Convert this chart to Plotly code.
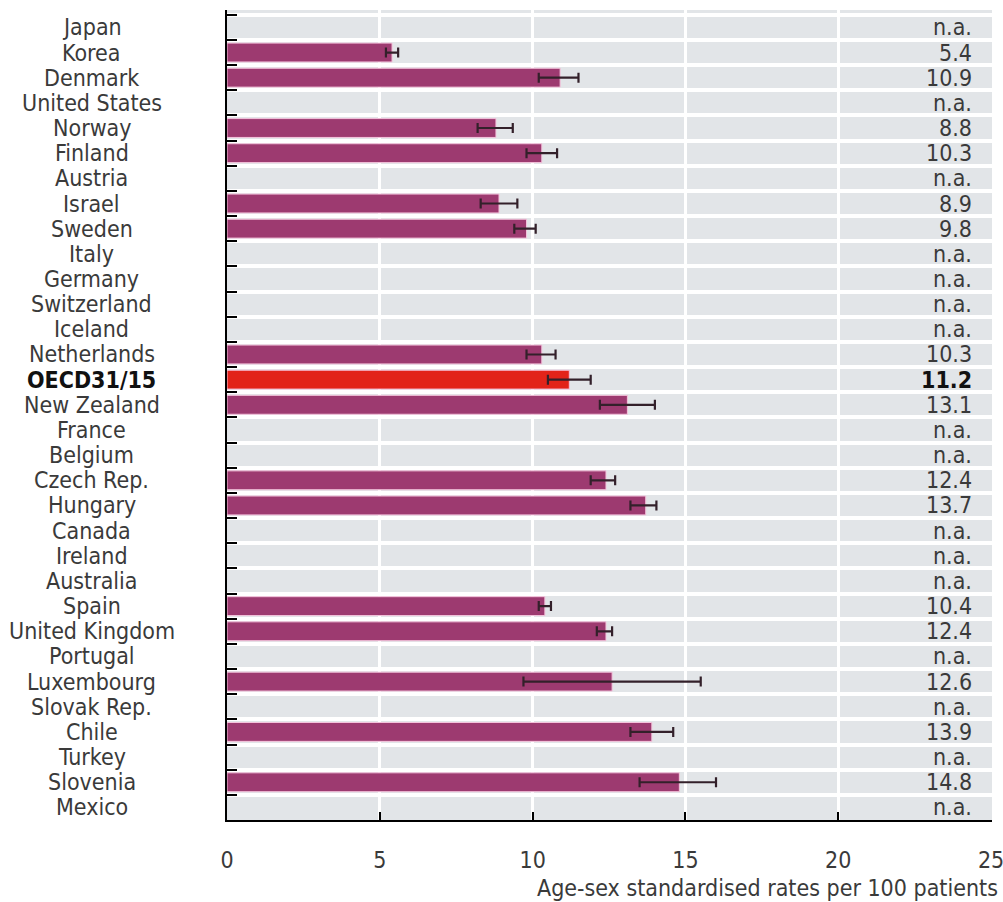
import plotly.graph_objects as go

countries = [
    "Japan", "Korea", "Denmark", "United States", "Norway", "Finland", "Austria",
    "Israel", "Sweden", "Italy", "Germany", "Switzerland", "Iceland", "Netherlands",
    "OECD31/15", "New Zealand", "France", "Belgium", "Czech Rep.", "Hungary",
    "Canada", "Ireland", "Australia", "Spain", "United Kingdom", "Portugal",
    "Luxembourg", "Slovak Rep.", "Chile", "Turkey", "Slovenia", "Mexico",
]
rates = [
    None, 5.4, 10.9, None, 8.8, 10.3, None,
    8.9, 9.8, None, None, None, None, 10.3,
    11.2, 13.1, None, None, 12.4, 13.7,
    None, None, None, 10.4, 12.4, None,
    12.6, None, 13.9, None, 14.8, None,
]
ci_low = [
    None, 5.2, 10.2, None, 8.2, 9.8, None,
    8.3, 9.4, None, None, None, None, 9.8,
    10.5, 12.2, None, None, 11.9, 13.2,
    None, None, None, 10.2, 12.1, None,
    9.7, None, 13.2, None, 13.5, None,
]
ci_high = [
    None, 5.6, 11.5, None, 9.35, 10.8, None,
    9.5, 10.1, None, None, None, None, 10.75,
    11.9, 14.0, None, None, 12.7, 14.05,
    None, None, None, 10.6, 12.6, None,
    15.5, None, 14.6, None, 16.0, None,
]
x_ticks = [0, 5, 10, 15, 20, 25]
axis_title = "Age-sex standardised rates per 100 patients"
highlight = "OECD31/15"

FONT = "Liberation Sans Narrow, DejaVu Sans Condensed, Roboto, sans-serif"
TEXT = "#3a3a3a"
BAR = "#9d3a70"
BAR_HI = "#e2231a"
FS = 23

err_plus = [(h - v) if v is not None else None for v, h in zip(rates, ci_high)]
err_minus = [(v - l) if v is not None else None for v, l in zip(rates, ci_low)]
colors = [BAR_HI if c == highlight else BAR for c in countries]

fig = go.Figure()
fig.add_trace(go.Bar(
    x=rates, y=countries, orientation="h", width=0.75,
    marker=dict(color=colors, line=dict(color="#f4c4dc", width=1)),
    error_x=dict(type="data", symmetric=False, array=err_plus, arrayminus=err_minus,
                 color="#33202a", thickness=2.2, width=5),
    hoverinfo="skip", showlegend=False,
))

annotations = []
for c, v in zip(countries, rates):
    bold = c == highlight
    label = f"<b>{c}</b>" if bold else c
    annotations.append(dict(
        x=-0.1765, xref="paper", y=c, yref="y", text=label, showarrow=False,
        xanchor="center", yanchor="middle",
        font=dict(family=FONT, size=FS, color="#111111" if bold else TEXT),
    ))
    vtxt = "n.a." if v is None else f"{v:.1f}"
    if bold:
        vtxt = f"<b>{vtxt}</b>"
    annotations.append(dict(
        x=24.45, xref="x", y=c, yref="y", text=vtxt, showarrow=False,
        xanchor="right", yanchor="middle",
        font=dict(family=FONT, size=FS, color="#111111" if bold else TEXT),
    ))
annotations.append(dict(
    x=1.0105, xref="paper", y=-0.084, yref="paper", text=axis_title,
    showarrow=False, xanchor="right", yanchor="middle",
    font=dict(family=FONT, size=FS, color=TEXT),
))

fig.update_layout(
    width=1003, height=902,
    margin=dict(l=227, r=11, t=10, b=82, autoexpand=False),
    paper_bgcolor="white", plot_bgcolor="#e2e5e8",
    bargap=0.25,
    annotations=annotations,
    font=dict(family=FONT, size=FS, color=TEXT),
)
fig.update_xaxes(
    range=[0, 25.03], tickvals=x_ticks, ticktext=[str(t) for t in x_ticks],
    showgrid=True, gridcolor="white", gridwidth=2.5, zeroline=False,
    showline=True, linecolor="black", linewidth=2,
    ticks="inside", ticklen=8, tickwidth=2, tickcolor="black",
    ticklabelstandoff=18, ticklabeloverflow="allow", automargin=False,
    tickfont=dict(family=FONT, size=FS, color=TEXT),
)
fig.update_yaxes(
    categoryorder="array", categoryarray=countries,
    range=[len(countries) - 0.5, -0.69],
    tickson="boundaries", ticks="inside", ticklen=10, tickwidth=2, tickcolor="black",
    showticklabels=False, showgrid=True, gridcolor="white", gridwidth=4,
    showline=True, linecolor="black", linewidth=2, zeroline=False,
)

fig.write_html("out.html")
